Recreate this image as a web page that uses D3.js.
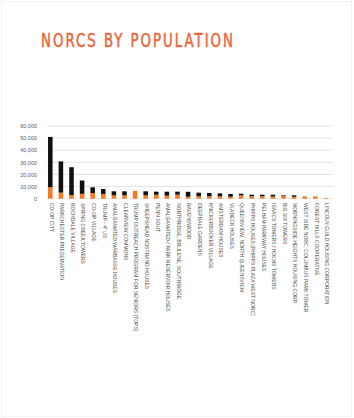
<!DOCTYPE html>
<html>
<head>
<meta charset="utf-8">
<script src="https://cdn.jsdelivr.net/npm/d3@7"></script>
<style>
  body { margin: 0; background: #fff; }
</style>
</head>
<body>
<div id="chart"></div>
<script>
// NORCS by population - stacked bars (orange part at the bottom, black on top)

var width = 354;
var height = 418;

// data
var norcs = [
  "CO-OP CITY", "PARKCHESTER PRESERVATION", "ROCHDALE VILLAGE", "SPRING CREEK TOWERS",
  "CO-OP VILLAGE", "TRUMP - 4\" US", "AMALGAMATED WARBASSE HOUSES", "CLEARVIEW COMMONS",
  "TRUMP OUTREACH PROGRAM FOR SENIORS (TOPS)", "SHEEPSHEAD NOSTRAND HOUSES", "PENN SOUT",
  "AMALGAMATED / PARK RESERVOIR HOUSES", "NORTHRIDGE, BRULENE, SOUTHRIDGE", "RAVENSWOOD",
  "DEEPDALE GARDENS", "KNICKERBOCKER VILLAGE", "AMSTERDAM HOUSES", "VLADECK HOUSES",
  "QUEENSVIEW, NORTH QUEENSVIEW", "PHIPPS HOUSES (PHIPPS PLAZA WEST NORC)", "PELHAM PARKWAY HOUSES",
  "ISAACS TOWERS / HOLMS TOWERS", "BIG SIX TOWERS", "MORNINGSIDE HEIGHTS HOUSING CORP",
  "WEST SIDE NORC: COLUMBUS PARK TOWER", "FOREST HILLS COOPERATIVE", "LINCOLN GUILD HOUSING CORPORATION"
];
var orangePart = [9500, 5000, 3000, 4000, 4700, 3900, 2800, 2800, 6500, 2800, 3300, 2500, 3300, 1600,
                  2000, 2000, 2000, 1600, 2800, 2000, 2000, 1800, 2500, 1600, 1500, 1500, 600];
var blackPart = [41500, 25800, 23000, 11000, 4700, 4100, 3300, 3300, 0, 3300, 2500, 3300, 2500, 4100,
                 3000, 2700, 2400, 2300, 1300, 1300, 1300, 1500, 500, 1200, 200, 200, 0];
var yTicks = [0, 10000, 20000, 30000, 40000, 50000, 60000];

var rows = norcs.map(function(n, i) {
  return { name: n, orange: orangePart[i], black: blackPart[i] };
});

var svg = d3.select("#chart")
  .append("svg")
  .attr("width", width)
  .attr("height", height);

// faint frame
svg.append("rect")
  .attr("x", 1.5).attr("y", 1.5)
  .attr("width", width - 4).attr("height", height - 3)
  .attr("fill", "none")
  .attr("stroke", "#f2f2f2");

// title: narrow glyphs, wide letter spacing
svg.append("text")
  .attr("transform", "translate(41,46.5) scale(0.78,1)")
  .attr("textLength", 192 / 0.78)
  .attr("lengthAdjust", "spacing")
  .style("font-family", "'DejaVu Sans Condensed', 'DejaVu Sans', sans-serif")
  .style("font-size", "19px")
  .style("fill", "#e8683c")
  .style("stroke", "#e8683c")
  .style("stroke-width", 0.5)
  .text("NORCS BY POPULATION");

var x = d3.scaleBand()
  .domain(norcs)
  .range([45, 331.2])
  .paddingInner(0.57)
  .paddingOuter(0.285);

var y = d3.scaleLinear()
  .domain([0, 60000])
  .range([198.7, 126]);

// gridlines
svg.append("g")
  .selectAll("line")
  .data(yTicks)
  .enter()
  .append("line")
  .attr("x1", 47)
  .attr("x2", 333)
  .attr("y1", function(d) { return y(d); })
  .attr("y2", function(d) { return y(d); })
  .attr("stroke", "#dcdcdc")
  .attr("stroke-width", 0.8);

// y axis labels
var yAxis = svg.append("g")
  .attr("transform", "translate(42,0)")
  .call(d3.axisLeft(y).tickValues(yTicks).tickSize(0).tickPadding(5)
    .tickFormat(d3.format(",")));
yAxis.select(".domain").remove();
yAxis.selectAll("text")
  .style("font-family", "'Liberation Sans', Arial, sans-serif")
  .style("font-size", "5.5px")
  .style("fill", "#595959");

// stacked bars
var stack = d3.stack().keys(["orange", "black"]);
var series = stack(rows);
var colors = { orange: "#f47b20", black: "#111111" };

svg.append("g")
  .selectAll("g")
  .data(series)
  .enter()
  .append("g")
  .attr("fill", function(s) { return colors[s.key]; })
  .selectAll("rect")
  .data(function(s) { return s; })
  .enter()
  .append("rect")
  .attr("x", function(d) { return x(d.data.name); })
  .attr("width", x.bandwidth())
  .attr("y", function(d) { return y(d[1]); })
  .attr("height", function(d) { return y(d[0]) - y(d[1]); });

// x labels, rotated to read downward
svg.append("g")
  .selectAll("text")
  .data(norcs)
  .enter()
  .append("text")
  .attr("transform", function(d) {
    return "translate(" + (x(d) + x.bandwidth() / 2 + 1) + ",203) rotate(90)";
  })
  .attr("dy", "0.35em")
  .style("font-family", "'Liberation Sans', Arial, sans-serif")
  .style("font-size", "5px")
  .style("fill", "#4d4d4d")
  .text(function(d) { return d; });
</script>
</body>
</html>
